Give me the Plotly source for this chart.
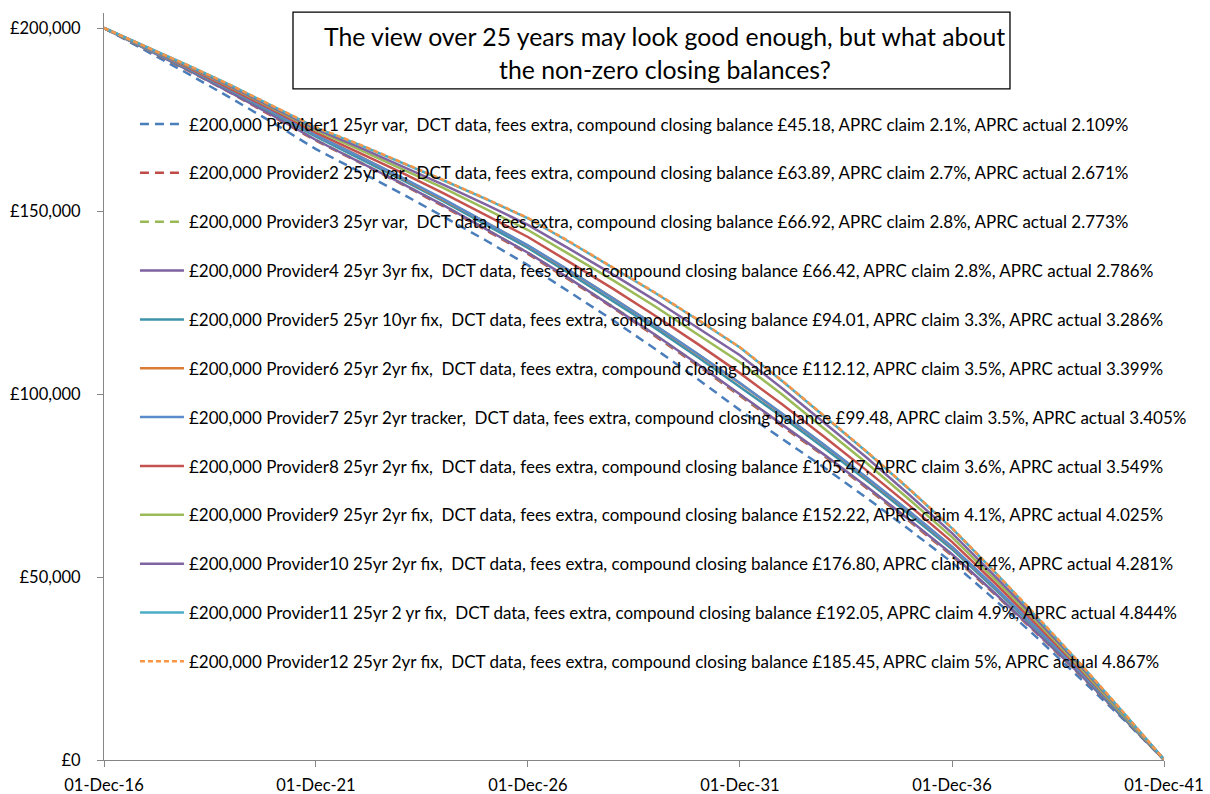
import plotly.graph_objects as go

# Annual balance points, 01-Dec-2016 .. 01-Dec-2041 (final point = compound closing balance)
dates = [f"{y}-12-01" for y in range(2016, 2042)]

provider1 = [200000, 193800, 187400, 180800, 174000, 166900, 161000, 154900, 148500, 142000,
             135200, 127800, 120200, 112300, 104100, 95600, 87800, 79800, 71500, 62900,
             54000, 43900, 33500, 22700, 11600, 45.18]
provider2 = [200000, 194200, 188300, 182200, 175800, 169200, 163400, 157500, 151300, 144900,
             138300, 131000, 123600, 115800, 107800, 99500, 91300, 82900, 74200, 65200,
             55800, 45400, 34600, 23500, 11900, 63.89]
provider3 = [200000, 194300, 188400, 182300, 176000, 169400, 163600, 157700, 151600, 145200,
             138600, 131300, 123900, 116100, 108100, 99800, 91600, 83200, 74500, 65500,
             56100, 45600, 34800, 23600, 12000, 66.92]
provider4 = [200000, 194300, 188400, 182300, 176000, 169400, 163600, 157700, 151600, 145200,
             138600, 131400, 123900, 116200, 108200, 99900, 91700, 83300, 74600, 65600,
             56200, 45700, 34800, 23700, 12000, 66.42]
provider5 = [200000, 194400, 188700, 182800, 176700, 170300, 164600, 158700, 152700, 146400,
             139900, 132800, 125500, 118000, 110100, 102000, 93700, 85100, 76300, 67100,
             57600, 46800, 35700, 24300, 12300, 94.01]
provider6 = [200000, 194500, 188900, 183000, 177000, 170700, 165100, 159200, 153200, 147000,
             140500, 133500, 126200, 118700, 110900, 102900, 94500, 85900, 77000, 67800,
             58200, 47300, 36100, 24500, 12500, 112.12]
provider7 = [200000, 194500, 188900, 183000, 177000, 170700, 165100, 159300, 153300, 147000,
             140600, 133600, 126300, 118800, 111000, 103000, 94600, 86000, 77100, 67900,
             58300, 47400, 36100, 24500, 12500, 99.48]
provider8 = [200000, 194700, 189100, 183400, 177500, 171400, 166100, 160600, 154900, 149000,
             142900, 135900, 128800, 121400, 113700, 105700, 97100, 88200, 79000, 69500,
             59600, 48500, 37000, 25100, 12800, 105.47]
provider9 = [200000, 194800, 189400, 183800, 178000, 172000, 166900, 161700, 156300, 150600,
             144800, 138000, 131100, 123900, 116400, 108700, 99800, 90500, 81000, 71100,
             60900, 49500, 37800, 25600, 13000, 152.22]
provider10 = [200000, 194800, 189500, 184000, 178300, 172400, 167500, 162400, 157200, 151800,
              146200, 139500, 132700, 125600, 118200, 110600, 101500, 92100, 82500, 72400,
              62000, 50400, 38400, 26100, 13300, 176.80]
provider11 = [200000, 194900, 189700, 184300, 178600, 172800, 168200, 163400, 158400, 153300,
              148000, 141400, 134600, 127600, 120300, 112700, 103500, 93900, 84100, 73900,
              63300, 51500, 39200, 26600, 13500, 192.05]
provider12 = [200000, 194900, 189700, 184300, 178700, 172900, 168300, 163500, 158500, 153400,
              148100, 141500, 134700, 127700, 120400, 112800, 103600, 94000, 84200, 74000,
              63400, 51500, 39300, 26700, 13600, 185.45]

names = [
    "£200,000 Provider1 25yr var,\u00a0 DCT data, fees extra, compound closing balance £45.18, APRC claim 2.1%, APRC actual 2.109%",
    "£200,000 Provider2 25yr var,\u00a0 DCT data, fees extra, compound closing balance £63.89, APRC claim 2.7%, APRC actual 2.671%",
    "£200,000 Provider3 25yr var,\u00a0 DCT data, fees extra, compound closing balance £66.92, APRC claim 2.8%, APRC actual 2.773%",
    "£200,000 Provider4 25yr 3yr fix,\u00a0 DCT data, fees extra, compound closing balance £66.42, APRC claim 2.8%, APRC actual 2.786%",
    "£200,000 Provider5 25yr 10yr fix,\u00a0 DCT data, fees extra, compound closing balance £94.01, APRC claim 3.3%, APRC actual 3.286%",
    "£200,000 Provider6 25yr 2yr fix,\u00a0 DCT data, fees extra, compound closing balance £112.12, APRC claim 3.5%, APRC actual 3.399%",
    "£200,000 Provider7 25yr 2yr tracker,\u00a0 DCT data, fees extra, compound closing balance £99.48, APRC claim 3.5%, APRC actual 3.405%",
    "£200,000 Provider8 25yr 2yr fix,\u00a0 DCT data, fees extra, compound closing balance £105.47, APRC claim 3.6%, APRC actual 3.549%",
    "£200,000 Provider9 25yr 2yr fix,\u00a0 DCT data, fees extra, compound closing balance £152.22, APRC claim 4.1%, APRC actual 4.025%",
    "£200,000 Provider10 25yr 2yr fix,\u00a0 DCT data, fees extra, compound closing balance £176.80, APRC claim 4.4%, APRC actual 4.281%",
    "£200,000 Provider11 25yr 2 yr fix,\u00a0 DCT data, fees extra, compound closing balance £192.05, APRC claim 4.9%, APRC actual 4.844%",
    "£200,000 Provider12 25yr 2yr fix,\u00a0 DCT data, fees extra, compound closing balance £185.45, APRC claim 5%, APRC actual 4.867%",
]

series = [provider1, provider2, provider3, provider4, provider5, provider6,
          provider7, provider8, provider9, provider10, provider11, provider12]

colors = ["#4A7EBB", "#BE4B48", "#98B954", "#7D60A0", "#3C93AA", "#DB7A33",
          "#5A8BCB", "#C4524E", "#9BBB59", "#8064A2", "#4BACC6", "#F79646"]
dashes = ["9px,6px", "9px,6px", "9px,6px", "solid", "solid", "solid",
          "solid", "solid", "solid", "solid", "solid", "5px,3px"]

tick_dates = ["2016-12-01", "2021-12-01", "2026-12-01", "2031-12-01", "2036-12-01", "2041-12-01"]
y_ticks = [0, 50000, 100000, 150000, 200000]
y_labels = ["£0", "£50,000", "£100,000", "£150,000", "£200,000"]

title_lines = ["The view over 25 years may look good enough, but what about",
               "the non-zero closing balances?"]

FONT = "Lato, 'Open Sans', sans-serif"

fig = go.Figure()
for i, (vals, name) in enumerate(zip(series, names)):
    fig.add_trace(go.Scatter(
        x=dates, y=vals, mode="lines", name=name,
        legendgroup=f"g{i}",
        line=dict(color=colors[i], width=2.5, dash=dashes[i]),
    ))

fig.update_layout(
    width=1210, height=794,
    margin=dict(l=104, r=46, t=13, b=34),
    paper_bgcolor="white", plot_bgcolor="white",
    font=dict(family=FONT, color="#000000"),
    showlegend=True,
    legend=dict(
        x=0.0292, y=0.8749, xanchor="left", yanchor="top",
        bgcolor="rgba(0,0,0,0)", borderwidth=0,
        font=dict(size=17, family=FONT, color="#000000"),
        tracegroupgap=23.75, traceorder="grouped", itemwidth=44,
    ),
    xaxis=dict(
        type="date", range=["2016-12-01", "2041-12-01"],
        tickvals=tick_dates, tickformat="%d-%b-%y",
        showgrid=False, zeroline=False, automargin=False,
        showline=True, linecolor="#868686", linewidth=1,
        ticks="outside", ticklen=6, tickcolor="#868686",
        tickfont=dict(size=16.5, family=FONT),
        ticklabelstandoff=4,
    ),
    yaxis=dict(
        range=[0, 204100],
        tickvals=y_ticks, ticktext=y_labels,
        showgrid=False, zeroline=False, automargin=False,
        showline=True, linecolor="#868686", linewidth=1,
        ticks="outside", ticklen=6, tickcolor="#868686",
        tickfont=dict(size=16.5, family=FONT),
        ticklabelstandoff=13,
    ),
    shapes=[dict(
        type="rect", xref="paper", yref="paper",
        x0=0.1783, x1=0.8547, y0=0.8983, y1=1.0013,
        line=dict(color="#000000", width=1.3), fillcolor="white", layer="above",
    )],
    annotations=[
        dict(xref="paper", yref="paper", x=0.5292, y=yv,
             xanchor="center", yanchor="middle", showarrow=False,
             text=line, font=dict(size=24.8, family=FONT, color="#000000"))
        for line, yv in zip(title_lines, [0.9679, 0.9237])
    ],
)

fig.write_html("out.html")
